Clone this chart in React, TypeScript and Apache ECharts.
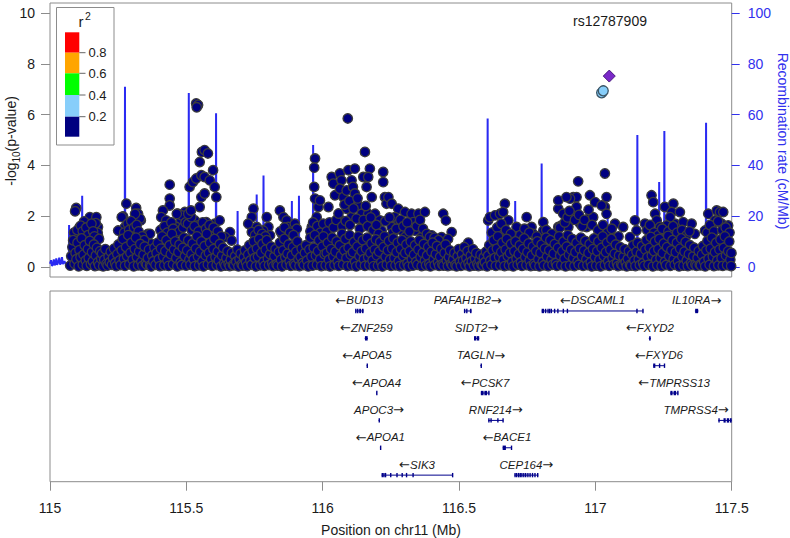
import React, { useEffect, useRef } from "react";
import * as echarts from "echarts";

// ---------------- data ----------------
const X_MIN = 115;
const X_MAX = 117.5;
const X_INTERVAL = 0.5;
const P_TICKS = [0, 2, 4, 6, 8, 10];
const RECOMB_TICKS = [0, 20, 40, 60, 80, 100];
const LEAD_SNP_NAME = "rs12787909";
const Y_TITLE_MAIN = "-log";
const Y_TITLE_SUB = "10";
const Y_TITLE_END = "(p-value)";
const Y2_TITLE = "Recombination rate (cM/Mb)";
const X_TITLE = "Position on chr11 (Mb)";

const LD_LABELS = ["0.8", "0.6", "0.4", "0.2"];
const LD_COLORS = ["#FF0000", "#FFA500", "#00FF00", "#87CEFA", "#000080"];

const leadSnp = [[117.051, 7.52]];
const ldSnps = [[117.023, 6.86], [117.029, 6.94]];

// recombination rate (cM/Mb)
const recombRate = [
  [115.000, 1.2], [115.004, 2.6], [115.007, 0.4], [115.011, 1.0], [115.014, 2.9], [115.017, 0.6],
  [115.021, 1.4], [115.023, 3.3], [115.026, 0.8], [115.031, 2.1], [115.034, 3.6], [115.037, 0.9],
  [115.041, 1.6], [115.044, 3.8], [115.047, 1.1], [115.053, 2.2], [115.058, 1.0], [115.065, 1.5],
  [115.069, 0.8], [115.070, 16.5], [115.071, 0.8], [115.100, 0.6], [115.117, 0.5], [115.118, 28],
  [115.119, 0.5], [115.200, 0.4], [115.274, 0.5], [115.275, 71], [115.276, 0.5], [115.400, 0.3],
  [115.508, 0.5], [115.509, 68.5], [115.510, 0.5], [115.608, 0.5], [115.609, 60.5], [115.610, 0.5],
  [115.687, 0.4], [115.688, 22], [115.689, 0.4], [115.757, 0.4], [115.758, 28.5], [115.759, 0.4],
  [115.782, 0.4], [115.783, 36], [115.784, 0.4], [115.886, 0.4], [115.887, 26], [115.888, 0.4],
  [115.912, 0.4], [115.913, 28], [115.914, 0.4], [115.964, 0.5], [115.965, 48], [115.966, 0.5],
  [116.200, 0.3], [116.361, 0.4], [116.362, 15.6], [116.363, 0.4], [116.500, 0.3], [116.604, 0.4],
  [116.605, 58.5], [116.606, 0.4], [116.705, 0.4], [116.706, 26], [116.707, 0.4], [116.802, 0.4],
  [116.803, 40.7], [116.804, 0.4], [116.950, 0.3], [117.044, 0.4], [117.045, 20], [117.046, 0.4],
  [117.153, 0.4], [117.154, 52], [117.155, 0.4], [117.233, 0.4], [117.234, 33.4], [117.235, 0.4],
  [117.252, 0.4], [117.253, 53.5], [117.254, 0.4], [117.405, 0.4], [117.406, 56.8], [117.407, 0.4],
  [117.500, 0.5],
];

// SNPs, -log10(p), r2 < 0.2
const snpsLowA = [
  [115.074, 0.05], [115.078, 0.42], [115.082, 0.78], [115.085, 1.05], [115.090, 0.12], [115.094, 0.55], [115.097, 0.30], [115.101, 0.95],
  [115.105, 0.02], [115.108, 0.66], [115.112, 0.38], [115.116, 1.12], [115.120, 0.08], [115.123, 0.48], [115.127, 0.85], [115.131, 0.25],
  [115.135, 0.04], [115.139, 0.70], [115.142, 0.35], [115.146, 1.02], [115.150, 0.10], [115.154, 0.58], [115.157, 0.22], [115.161, 0.88],
  [115.165, 0.03], [115.168, 0.45], [115.172, 0.75], [115.176, 0.18], [115.180, 0.06], [115.184, 0.62], [115.188, 0.32], [115.191, 0.52],
  [115.195, 0.02], [115.199, 0.28], [115.203, 0.70], [115.207, 0.12], [115.211, 0.05], [115.215, 0.40], [115.219, 0.18], [115.223, 0.60],
  [115.227, 0.08], [115.231, 0.35], [115.235, 0.72], [115.239, 0.15], [115.243, 0.03], [115.247, 0.50], [115.251, 0.88], [115.255, 0.25],
  [115.259, 0.07], [115.263, 0.65], [115.267, 1.10], [115.271, 0.32], [115.275, 0.04], [115.279, 0.78], [115.283, 0.42], [115.287, 1.25],
  [115.291, 0.10], [115.295, 0.55], [115.299, 0.95], [115.303, 0.28], [115.307, 0.02], [115.311, 0.70], [115.315, 1.15], [115.319, 0.38],
  [115.323, 0.06], [115.327, 0.60], [115.331, 0.90], [115.335, 0.20], [115.339, 0.04], [115.343, 0.48], [115.347, 0.80], [115.351, 0.15],
  [115.355, 0.09], [115.359, 0.35], [115.363, 0.68], [115.367, 0.05], [115.371, 0.02], [115.375, 0.45], [115.379, 0.22], [115.383, 0.75],
  [115.387, 0.08], [115.391, 0.55], [115.395, 0.95], [115.399, 0.30], [115.403, 0.03], [115.407, 0.72], [115.411, 1.20], [115.415, 0.40],
  [115.419, 0.06], [115.423, 0.62], [115.427, 1.05], [115.431, 0.25], [115.435, 0.04], [115.439, 0.85], [115.443, 0.50], [115.447, 1.30],
  [115.451, 0.10], [115.455, 0.68], [115.459, 1.00], [115.463, 0.35], [115.467, 0.02], [115.471, 0.58], [115.475, 0.88], [115.479, 0.18],
  [115.483, 0.07], [115.487, 0.75], [115.491, 1.15], [115.495, 0.42], [115.499, 0.05], [115.503, 0.65], [115.507, 1.05], [115.511, 0.28],
];
const snpsLowB = [
  [115.515, 0.08], [115.519, 0.50], [115.523, 0.92], [115.527, 0.30], [115.531, 0.03], [115.535, 0.72], [115.539, 1.20], [115.543, 0.40],
  [115.547, 0.06], [115.551, 0.60], [115.555, 1.00], [115.559, 0.22], [115.563, 0.02], [115.567, 0.82], [115.571, 0.45], [115.575, 1.30],
  [115.579, 0.09], [115.583, 0.55], [115.587, 0.95], [115.591, 0.30], [115.595, 0.04], [115.599, 0.70], [115.603, 1.10], [115.607, 0.38],
  [115.611, 0.07], [115.615, 0.60], [115.619, 0.25], [115.623, 0.90], [115.627, 0.02], [115.631, 0.45], [115.635, 0.75], [115.639, 0.15],
  [115.643, 0.05], [115.647, 0.35], [115.651, 0.62], [115.655, 0.12], [115.659, 0.03], [115.663, 0.28], [115.667, 0.55], [115.671, 0.08],
  [115.675, 0.06], [115.679, 0.42], [115.683, 0.20], [115.687, 0.68], [115.691, 0.02], [115.695, 0.30], [115.699, 0.52], [115.703, 0.10],
  [115.707, 0.05], [115.711, 0.38], [115.715, 0.65], [115.719, 0.18], [115.723, 0.03], [115.727, 0.48], [115.731, 0.85], [115.735, 0.25],
  [115.739, 0.08], [115.743, 0.62], [115.747, 1.00], [115.751, 0.35], [115.755, 0.02], [115.759, 0.72], [115.763, 0.40], [115.767, 1.10],
  [115.771, 0.06], [115.775, 0.55], [115.779, 0.90], [115.783, 0.20], [115.787, 0.04], [115.791, 0.68], [115.795, 1.05], [115.799, 0.32],
  [115.803, 0.07], [115.807, 0.50], [115.811, 0.80], [115.815, 0.15], [115.819, 0.03], [115.823, 0.42], [115.827, 0.70], [115.831, 0.10],
  [115.835, 0.05], [115.839, 0.58], [115.843, 0.95], [115.847, 0.28], [115.851, 0.02], [115.855, 0.65], [115.859, 1.10], [115.863, 0.38],
  [115.867, 0.08], [115.871, 0.52], [115.875, 0.88], [115.879, 0.22], [115.883, 0.04], [115.887, 0.45], [115.891, 0.78], [115.895, 0.12],
  [115.899, 0.06], [115.903, 0.60], [115.907, 1.00], [115.911, 0.30], [115.915, 0.03], [115.919, 0.40], [115.923, 0.72], [115.927, 0.15],
  [115.931, 0.07], [115.935, 0.55], [115.939, 0.85], [115.943, 0.25], [115.947, 0.02], [115.951, 0.68], [115.955, 1.15], [115.959, 0.40],
  [115.963, 0.05], [115.967, 0.75], [115.971, 1.25], [115.975, 0.45], [115.979, 0.08], [115.983, 0.62], [115.987, 1.05], [115.991, 0.30],
  [115.995, 0.03], [115.999, 0.80], [116.003, 1.20], [116.007, 0.50],
];
const snpsLowC = [
  [116.011, 0.06], [116.015, 0.55], [116.019, 0.95], [116.023, 0.28], [116.027, 0.02], [116.031, 0.70], [116.035, 1.15], [116.039, 0.40],
  [116.043, 0.07], [116.047, 0.60], [116.051, 1.00], [116.055, 0.22], [116.059, 0.04], [116.063, 0.85], [116.067, 0.45], [116.071, 1.30],
  [116.075, 0.09], [116.079, 0.65], [116.083, 1.10], [116.087, 0.35], [116.091, 0.03], [116.095, 0.75], [116.099, 1.25], [116.103, 0.48],
  [116.107, 0.06], [116.111, 0.58], [116.115, 0.98], [116.119, 0.20], [116.123, 0.02], [116.127, 0.80], [116.131, 1.20], [116.135, 0.42],
  [116.139, 0.08], [116.143, 0.62], [116.147, 1.05], [116.151, 0.30], [116.155, 0.04], [116.159, 0.72], [116.163, 1.15], [116.167, 0.38],
  [116.171, 0.07], [116.175, 0.55], [116.179, 0.92], [116.183, 0.25], [116.187, 0.03], [116.191, 0.68], [116.195, 1.08], [116.199, 0.45],
  [116.203, 0.05], [116.207, 0.60], [116.211, 0.98], [116.215, 0.18], [116.219, 0.02], [116.223, 0.78], [116.227, 1.20], [116.231, 0.40],
  [116.235, 0.08], [116.239, 0.65], [116.243, 1.02], [116.247, 0.28], [116.251, 0.04], [116.255, 0.72], [116.259, 1.12], [116.263, 0.35],
  [116.267, 0.06], [116.271, 0.58], [116.275, 0.95], [116.279, 0.22], [116.283, 0.03], [116.287, 0.70], [116.291, 1.05], [116.295, 0.42],
  [116.299, 0.07], [116.303, 0.55], [116.307, 0.88], [116.311, 0.15], [116.315, 0.02], [116.319, 0.62], [116.323, 1.00], [116.327, 0.30],
  [116.331, 0.05], [116.335, 0.48], [116.339, 0.85], [116.343, 0.20], [116.347, 0.08], [116.351, 0.68], [116.355, 1.05], [116.359, 0.38],
  [116.363, 0.03], [116.367, 0.55], [116.371, 0.90], [116.375, 0.25], [116.379, 0.06], [116.383, 0.45], [116.387, 0.78], [116.391, 0.12],
  [116.395, 0.02], [116.399, 0.60], [116.403, 0.95], [116.407, 0.30], [116.411, 0.07], [116.415, 0.50], [116.419, 0.82], [116.423, 0.18],
  [116.427, 0.04], [116.431, 0.40], [116.435, 0.72], [116.439, 0.10], [116.443, 0.05], [116.447, 0.55], [116.451, 0.88], [116.455, 0.25],
  [116.459, 0.03], [116.463, 0.38], [116.467, 0.65], [116.471, 0.12], [116.475, 0.06], [116.479, 0.30], [116.483, 0.55], [116.487, 0.08],
  [116.491, 0.02], [116.495, 0.42], [116.499, 0.70], [116.503, 0.20],
];
const snpsLowD = [
  [116.507, 0.04], [116.511, 0.50], [116.515, 0.25], [116.519, 0.78], [116.523, 0.07], [116.527, 0.35], [116.531, 0.62], [116.535, 0.15],
  [116.539, 0.02], [116.543, 0.45], [116.547, 0.22], [116.551, 0.70], [116.555, 0.05], [116.559, 0.32], [116.563, 0.55], [116.567, 0.12],
  [116.571, 0.03], [116.575, 0.28], [116.579, 0.48], [116.583, 0.08], [116.587, 0.06], [116.591, 0.38], [116.595, 0.18], [116.599, 0.60],
  [116.603, 0.02], [116.607, 0.45], [116.611, 0.85], [116.615, 0.25], [116.619, 0.08], [116.623, 0.65], [116.627, 1.05], [116.631, 0.35],
  [116.635, 0.04], [116.639, 0.72], [116.643, 1.20], [116.647, 0.40], [116.651, 0.07], [116.655, 0.58], [116.659, 0.95], [116.663, 0.28],
  [116.667, 0.03], [116.671, 0.68], [116.675, 1.10], [116.679, 0.42], [116.683, 0.06], [116.687, 0.55], [116.691, 0.90], [116.695, 0.20],
  [116.699, 0.02], [116.703, 0.62], [116.707, 1.00], [116.711, 0.32], [116.715, 0.08], [116.719, 0.50], [116.723, 0.85], [116.727, 0.18],
  [116.731, 0.04], [116.735, 0.70], [116.739, 1.12], [116.743, 0.38], [116.747, 0.07], [116.751, 0.58], [116.755, 0.92], [116.759, 0.25],
  [116.763, 0.03], [116.767, 0.45], [116.771, 0.80], [116.775, 0.12], [116.779, 0.05], [116.783, 0.62], [116.787, 1.00], [116.791, 0.30],
  [116.795, 0.02], [116.799, 0.55], [116.803, 0.88], [116.807, 0.20], [116.811, 0.06], [116.815, 0.72], [116.819, 1.15], [116.823, 0.40],
  [116.827, 0.03], [116.831, 0.65], [116.835, 1.05], [116.839, 0.28], [116.843, 0.08], [116.847, 0.52], [116.851, 0.90], [116.855, 0.15],
  [116.859, 0.04], [116.863, 0.75], [116.867, 1.20], [116.871, 0.45], [116.875, 0.07], [116.879, 0.62], [116.883, 1.00], [116.887, 0.32],
  [116.891, 0.02], [116.895, 0.80], [116.899, 1.25], [116.903, 0.48], [116.907, 0.06], [116.911, 0.68], [116.915, 1.10], [116.919, 0.35],
  [116.923, 0.03], [116.927, 0.58], [116.931, 0.95], [116.935, 0.22], [116.939, 0.08], [116.943, 0.72], [116.947, 1.15], [116.951, 0.42],
  [116.955, 0.04], [116.959, 0.65], [116.963, 1.02], [116.967, 0.30], [116.971, 0.07], [116.975, 0.55], [116.979, 0.90], [116.983, 0.18],
  [116.987, 0.02], [116.991, 0.70], [116.995, 1.12], [116.999, 0.38],
];
const snpsLowE = [
  [117.003, 0.05], [117.007, 0.62], [117.011, 1.00], [117.015, 0.28], [117.019, 0.02], [117.023, 0.75], [117.027, 1.20], [117.031, 0.42],
  [117.035, 0.07], [117.039, 0.58], [117.043, 0.95], [117.047, 0.22], [117.051, 0.04], [117.055, 0.68], [117.059, 1.10], [117.063, 0.35],
  [117.067, 0.08], [117.071, 0.52], [117.075, 0.88], [117.079, 0.15], [117.083, 0.03], [117.087, 0.45], [117.091, 0.78], [117.095, 0.10],
  [117.099, 0.06], [117.103, 0.40], [117.107, 0.70], [117.111, 0.18], [117.115, 0.02], [117.119, 0.32], [117.123, 0.62], [117.127, 0.08],
  [117.131, 0.05], [117.135, 0.48], [117.139, 0.85], [117.143, 0.25], [117.147, 0.03], [117.151, 0.60], [117.155, 0.95], [117.159, 0.30],
  [117.163, 0.07], [117.167, 0.52], [117.171, 0.82], [117.175, 0.15], [117.179, 0.04], [117.183, 0.68], [117.187, 1.05], [117.191, 0.38],
  [117.195, 0.08], [117.199, 0.75], [117.203, 1.18], [117.207, 0.45], [117.211, 0.02], [117.215, 0.62], [117.219, 1.00], [117.223, 0.28],
  [117.227, 0.06], [117.231, 0.70], [117.235, 1.10], [117.239, 0.35], [117.243, 0.03], [117.247, 0.55], [117.251, 0.92], [117.255, 0.20],
  [117.259, 0.07], [117.263, 0.78], [117.267, 1.22], [117.271, 0.42], [117.275, 0.04], [117.279, 0.65], [117.283, 1.05], [117.287, 0.30],
  [117.291, 0.08], [117.295, 0.58], [117.299, 0.95], [117.303, 0.22], [117.307, 0.02], [117.311, 0.72], [117.315, 1.12], [117.319, 0.40],
  [117.323, 0.05], [117.327, 0.60], [117.331, 0.98], [117.335, 0.25], [117.339, 0.03], [117.343, 0.50], [117.347, 0.85], [117.351, 0.15],
  [117.355, 0.07], [117.359, 0.42], [117.363, 0.75], [117.367, 0.10], [117.371, 0.04], [117.375, 0.35], [117.379, 0.62], [117.383, 0.08],
  [117.387, 0.06], [117.391, 0.48], [117.395, 0.82], [117.399, 0.20], [117.403, 0.02], [117.407, 0.65], [117.411, 1.02], [117.415, 0.32],
  [117.419, 0.08], [117.423, 0.72], [117.427, 1.15], [117.431, 0.40], [117.435, 0.03], [117.439, 0.58], [117.443, 0.95], [117.447, 0.25],
  [117.451, 0.06], [117.455, 0.68], [117.459, 1.08], [117.463, 0.35], [117.467, 0.04], [117.471, 0.75], [117.475, 1.20], [117.479, 0.45],
  [117.483, 0.07], [117.487, 0.62], [117.491, 1.00], [117.495, 0.28], [117.498, 0.03], [117.499, 0.55],
];
const snpsHighA = [
  [115.096, 2.32], [115.092, 2.19], [115.146, 1.96], [115.170, 1.96], [115.176, 1.57], [115.109, 1.57], [115.127, 1.30], [115.176, 1.24],
  [115.125, 1.79], [115.168, 1.72], [115.175, 1.34], [115.103, 0.77], [115.088, 1.35], [115.100, 1.45], [115.113, 1.62], [115.120, 1.40],
  [115.133, 1.55], [115.140, 1.25], [115.152, 1.70], [115.158, 1.40], [115.163, 1.20], [115.180, 1.10],
  [115.280, 2.49], [115.268, 1.99], [115.316, 2.32], [115.323, 2.09], [115.333, 1.83], [115.304, 1.50], [115.359, 1.30], [115.371, 0.91],
  [115.275, 1.57], [115.263, 1.96], [115.250, 1.43], [115.367, 1.30], [115.330, 1.90], [115.312, 2.09], [115.272, 1.35], [115.285, 1.70],
  [115.290, 1.45], [115.298, 1.80], [115.308, 1.55], [115.318, 1.65], [115.325, 1.40], [115.338, 1.20], [115.345, 1.05],
  [115.439, 3.24], [115.439, 2.69], [115.439, 2.42], [115.414, 2.22], [115.408, 1.96], [115.426, 1.83], [115.414, 1.50], [115.469, 2.09],
  [115.494, 2.16], [115.481, 1.83], [115.463, 1.57], [115.483, 2.03], [115.465, 2.09], [115.405, 1.45], [115.420, 1.60], [115.430, 1.35],
  [115.445, 1.75], [115.452, 1.50], [115.458, 1.30], [115.475, 1.40], [115.488, 1.55], [115.497, 1.75],
];
const snpsHighB = [
  [115.512, 3.15], [115.524, 3.34], [115.536, 3.48], [115.555, 3.61], [115.567, 3.54], [115.586, 3.41], [115.549, 4.13], [115.557, 4.53],
  [115.567, 4.60], [115.579, 4.47], [115.555, 2.75], [115.549, 2.36], [115.567, 2.89], [115.598, 3.81], [115.604, 3.15], [115.610, 2.75],
  [115.531, 1.83], [115.543, 1.63], [115.573, 1.76], [115.604, 1.70], [115.622, 1.83], [115.506, 1.70], [115.518, 1.96], [115.507, 2.09],
  [115.517, 2.22], [115.536, 6.44], [115.543, 6.38], [115.538, 6.29], [115.660, 1.37], [115.642, 1.17], [115.666, 1.04],
  [115.520, 1.45], [115.530, 1.60], [115.545, 1.40], [115.560, 1.75], [115.572, 1.50], [115.585, 1.65], [115.592, 1.35], [115.600, 1.55],
  [115.615, 1.40], [115.628, 1.20],
  [115.746, 2.29], [115.740, 1.96], [115.727, 1.70], [115.758, 1.57], [115.795, 1.96], [115.801, 1.57], [115.782, 1.43], [115.740, 1.37],
  [115.807, 1.24], [115.752, 1.25], [115.765, 1.45], [115.778, 1.30], [115.790, 1.20],
  [115.843, 2.22], [115.856, 1.96], [115.868, 1.83], [115.874, 1.57], [115.898, 1.70], [115.905, 1.50], [115.850, 1.30], [115.845, 1.40],
  [115.860, 1.55], [115.880, 1.35], [115.893, 1.25],
  [115.972, 4.27], [115.969, 3.91], [115.969, 3.15], [115.972, 2.69], [115.984, 2.36], [115.978, 1.96], [115.960, 1.57], [115.990, 2.62],
  [115.955, 1.40], [115.965, 1.75], [115.980, 1.60], [115.992, 1.35],
];
const snpsHighC = [
  [116.021, 2.36], [116.002, 1.70], [116.033, 3.54], [116.039, 3.28], [116.063, 3.68], [116.069, 3.41], [116.045, 2.82], [116.063, 3.08],
  [116.076, 2.75], [116.088, 3.01], [116.094, 3.81], [116.106, 3.41], [116.118, 3.87], [116.111, 3.15], [116.118, 2.89], [116.092, 5.85],
  [116.155, 4.53], [116.149, 3.54], [116.173, 3.87], [116.167, 3.54], [116.180, 2.75], [116.161, 3.15], [116.131, 2.42], [116.088, 2.29],
  [116.106, 1.96], [116.069, 1.83], [116.143, 2.09], [116.167, 2.09], [116.192, 2.09], [116.210, 1.83], [116.180, 1.70], [116.143, 1.57],
  [116.222, 3.74], [116.222, 3.34], [116.228, 2.75], [116.234, 2.49], [116.216, 1.43],
  [116.015, 1.40], [116.025, 1.75], [116.040, 1.55], [116.050, 1.85], [116.058, 2.10], [116.072, 1.60], [116.080, 2.45], [116.085, 1.80],
  [116.098, 2.60], [116.100, 1.65], [116.113, 2.30], [116.124, 1.90], [116.128, 2.70], [116.136, 1.50], [116.150, 1.85], [116.158, 2.40],
  [116.165, 1.60], [116.176, 1.95], [116.185, 1.45], [116.197, 1.65], [116.205, 1.30],
  [116.241, 2.75], [116.253, 2.49], [116.277, 2.29], [116.302, 2.16], [116.326, 2.09], [116.351, 2.09], [116.375, 2.16], [116.332, 1.76],
  [116.265, 1.96], [116.277, 1.70], [116.290, 1.43], [116.253, 1.57], [116.302, 1.17], [116.338, 1.43], [116.363, 1.17],
  [116.230, 1.80], [116.245, 1.95], [116.258, 1.35], [116.270, 1.50], [116.285, 1.85], [116.296, 1.60], [116.310, 1.75], [116.318, 1.40],
  [116.345, 1.60], [116.357, 1.85], [116.368, 1.50], [116.382, 1.30],
  [116.442, 2.09], [116.452, 1.83], [116.473, 1.37], [116.436, 1.17], [116.400, 1.24], [116.393, 1.17], [116.410, 1.15], [116.425, 1.05],
  [116.460, 1.10],
];
const snpsHighD = [
  [116.534, 0.95], [116.607, 1.83], [116.613, 1.96], [116.632, 2.03], [116.650, 2.09], [116.668, 2.49], [116.662, 2.16], [116.681, 1.83],
  [116.711, 1.57], [116.748, 1.96], [116.766, 1.57], [116.772, 1.30], [116.809, 1.43], [116.864, 2.29], [116.864, 1.57], [116.656, 1.24],
  [116.632, 0.91], [116.809, 1.76], [116.620, 1.35], [116.640, 1.55], [116.655, 1.70], [116.672, 1.45], [116.690, 1.30], [116.725, 1.25],
  [116.740, 1.50], [116.758, 1.35], [116.785, 1.20], [116.820, 1.45], [116.840, 1.30],
  [116.876, 1.63], [116.937, 3.37], [116.919, 2.75], [116.931, 2.75], [116.907, 2.69], [116.913, 2.16], [116.931, 2.36], [116.980, 2.82],
  [116.999, 2.55], [116.980, 1.96], [116.992, 1.96], [116.944, 1.70], [116.901, 1.57], [116.968, 1.57], [116.882, 2.09], [116.864, 2.62],
  [116.894, 2.75], [116.870, 1.55], [116.888, 1.75], [116.898, 1.95], [116.905, 2.20], [116.925, 1.85], [116.940, 2.05], [116.952, 1.60],
  [116.960, 1.85], [116.975, 2.25], [116.988, 1.65],
];
const snpsHighE = [
  [117.035, 3.68], [117.041, 2.75], [117.035, 2.36], [117.041, 2.09], [117.023, 2.42], [117.072, 1.70], [117.102, 1.57], [117.053, 1.30],
  [117.010, 1.45], [117.028, 1.65], [117.045, 1.35], [117.060, 1.50], [117.085, 1.20],
  [117.206, 2.82], [117.212, 2.55], [117.219, 2.09], [117.225, 1.83], [117.182, 1.70], [117.255, 2.36], [117.286, 2.49], [117.280, 2.16],
  [117.310, 2.16], [117.292, 1.70], [117.322, 1.76], [117.353, 1.70], [117.365, 1.30], [117.274, 1.96], [117.261, 1.63], [117.237, 1.57],
  [117.151, 1.43], [117.127, 1.17], [117.145, 1.83], [117.190, 1.45], [117.200, 1.65], [117.215, 1.35], [117.230, 1.25], [117.245, 1.50],
  [117.268, 1.40], [117.285, 1.60], [117.300, 1.35], [117.318, 1.45], [117.335, 1.25], [117.345, 1.40],
  [117.414, 2.09], [117.445, 2.22], [117.457, 2.16], [117.439, 1.83], [117.463, 1.70], [117.487, 1.63], [117.427, 1.57], [117.481, 1.17],
  [117.402, 1.43], [117.469, 2.16], [117.410, 1.35], [117.420, 1.65], [117.435, 1.40], [117.450, 1.80], [117.465, 1.45], [117.478, 1.55],
  [117.492, 1.35],
];

// genes: name, start, end (Mb), strand, track row, exon blocks
const GENES = [
  { name: "BUD13", start: 116.119, end: 116.150, strand: "-", row: 0, exons: [[116.119, 116.123], [116.126, 116.131], [116.134, 116.141], [116.144, 116.150]] },
  { name: "ZNF259", start: 116.154, end: 116.166, strand: "-", row: 1, exons: [[116.155, 116.165]] },
  { name: "APOA5", start: 116.161, end: 116.164, strand: "-", row: 2, exons: [[116.161, 116.164]] },
  { name: "APOA4", start: 116.196, end: 116.199, strand: "-", row: 3, exons: [[116.196, 116.199]] },
  { name: "APOC3", start: 116.205, end: 116.208, strand: "+", row: 4, exons: [[116.205, 116.208]] },
  { name: "APOA1", start: 116.210, end: 116.213, strand: "-", row: 5, exons: [[116.210, 116.213]] },
  { name: "SIK3", start: 116.216, end: 116.476, strand: "-", row: 6, exons: [[116.216, 116.220], [116.222, 116.226], [116.228, 116.233], [116.247, 116.249], [116.270, 116.272], [116.289, 116.291], [116.305, 116.307], [116.329, 116.331], [116.474, 116.476]] },
  { name: "PAFAH1B2", start: 116.518, end: 116.546, strand: "+", row: 0, exons: [[116.518, 116.523], [116.526, 116.530], [116.540, 116.546]] },
  { name: "SIDT2", start: 116.555, end: 116.574, strand: "+", row: 1, exons: [[116.555, 116.563], [116.565, 116.574]] },
  { name: "TAGLN", start: 116.578, end: 116.583, strand: "+", row: 2, exons: [[116.579, 116.582]] },
  { name: "PCSK7", start: 116.580, end: 116.611, strand: "-", row: 3, exons: [[116.580, 116.590], [116.593, 116.603], [116.607, 116.611]] },
  { name: "RNF214", start: 116.607, end: 116.662, strand: "+", row: 4, exons: [[116.607, 116.612], [116.615, 116.620], [116.640, 116.642], [116.659, 116.662]] },
  { name: "BACE1", start: 116.660, end: 116.692, strand: "-", row: 5, exons: [[116.660, 116.672], [116.690, 116.692]] },
  { name: "CEP164", start: 116.703, end: 116.791, strand: "+", row: 6, exons: [[116.703, 116.705], [116.709, 116.711], [116.716, 116.718], [116.722, 116.724], [116.728, 116.731], [116.735, 116.738], [116.742, 116.746], [116.750, 116.754], [116.758, 116.762], [116.767, 116.771], [116.776, 116.780], [116.786, 116.791]] },
  { name: "DSCAML1", start: 116.803, end: 117.176, strand: "-", row: 0, exons: [[116.803, 116.812], [116.815, 116.818], [116.824, 116.827], [116.830, 116.833], [116.836, 116.840], [116.848, 116.852], [116.860, 116.862], [116.880, 116.883], [116.895, 116.899], [117.150, 117.153], [117.172, 117.176]] },
  { name: "IL10RA", start: 117.365, end: 117.378, strand: "+", row: 0, exons: [[117.366, 117.377]] },
  { name: "FXYD2", start: 117.196, end: 117.204, strand: "-", row: 1, exons: [[117.197, 117.203]] },
  { name: "FXYD6", start: 117.212, end: 117.254, strand: "-", row: 2, exons: [[117.212, 117.220], [117.233, 117.235], [117.251, 117.254]] },
  { name: "TMPRSS13", start: 117.274, end: 117.304, strand: "-", row: 3, exons: [[117.275, 117.283], [117.287, 117.296], [117.300, 117.304]] },
  { name: "TMPRSS4", start: 117.451, end: 117.500, strand: "+", row: 4, exons: [[117.451, 117.453], [117.470, 117.478], [117.482, 117.490], [117.493, 117.500]] },
];

// ---------------- chart ----------------
const FONT = '"Liberation Sans", Arial, Helvetica, sans-serif';
const ARROW_FONT = '"DejaVu Sans", sans-serif';
const GENE_FONT_SIZE = 11.5;
const ARROW_FONT_SIZE = 13;
const BLUE = "#3131ee";
const NAVY = "#000080";
const GENE_COLOR = "#00008B";
const BOX = "#8c8c8c";

let measureCtx: CanvasRenderingContext2D | null = null;
function textWidth(t: string, font: string): number {
  if (!measureCtx) {
    const c = document.createElement("canvas");
    measureCtx = c.getContext("2d");
  }
  if (!measureCtx) return t.length * 7;
  measureCtx.font = font;
  return measureCtx.measureText(t).width;
}

function buildOption() {
  const allSnps = [
    ...snpsHighA, ...snpsHighB, ...snpsHighC, ...snpsHighD, ...snpsHighE,
    ...snpsLowA, ...snpsLowB, ...snpsLowC, ...snpsLowD, ...snpsLowE,
  ];

  const legendGraphics: any[] = [
    { type: "rect", shape: { x: 56.5, y: 7.5, width: 57.5, height: 137.5 }, style: { fill: "#fff", stroke: BOX, lineWidth: 1 }, z: 100 },
    { type: "text", x: 81, y: 21, style: { text: "r", font: `15px ${FONT}`, fill: "#1a1a1a", align: "center", verticalAlign: "middle" }, z: 101 },
    { type: "text", x: 88, y: 15.5, style: { text: "2", font: `10.5px ${FONT}`, fill: "#1a1a1a", align: "center", verticalAlign: "middle" }, z: 101 },
  ];
  const bandTops = [32.3, 52.7, 73.3, 95, 116.7, 136.7];
  LD_COLORS.forEach((c, i) => {
    legendGraphics.push({
      type: "rect",
      shape: { x: 65, y: bandTops[i], width: 14.3, height: bandTops[i + 1] - bandTops[i] },
      style: { fill: c, stroke: "none" },
      z: 101,
    });
  });
  LD_LABELS.forEach((l, i) => {
    const y = bandTops[i + 1];
    legendGraphics.push({ type: "line", shape: { x1: 79.3, y1: y, x2: 85.5, y2: y }, style: { stroke: "#666", lineWidth: 1 }, z: 101 });
    legendGraphics.push({ type: "text", x: 88.5, y: y, style: { text: l, font: `13px ${FONT}`, fill: "#1a1a1a", align: "left", verticalAlign: "middle" }, z: 101 });
  });

  return {
    animation: false,
    textStyle: { fontFamily: FONT },
    grid: [
      { left: 50, top: 3, width: 681.7, height: 274, show: true, borderColor: BOX, borderWidth: 1, backgroundColor: "transparent" },
      { left: 50, top: 291, width: 681.7, height: 190.7, show: true, borderColor: BOX, borderWidth: 1, backgroundColor: "transparent" },
    ],
    xAxis: [
      { gridIndex: 0, type: "value", min: X_MIN, max: X_MAX, show: false },
      {
        gridIndex: 1, type: "value", min: X_MIN, max: X_MAX, interval: X_INTERVAL, position: "bottom",
        axisLine: { show: false, onZero: false },
        axisTick: { show: true, length: 9, lineStyle: { color: BOX } },
        axisLabel: { fontSize: 14, color: "#1a1a1a", margin: 19, fontFamily: FONT },
        splitLine: { show: false },
      },
    ],
    yAxis: [
      {
        gridIndex: 0, type: "value", min: -0.4, max: 10.4,
        axisLine: { show: false, onZero: false },
        axisTick: { show: true, length: 9, customValues: P_TICKS, lineStyle: { color: BOX } },
        axisLabel: { customValues: P_TICKS, fontSize: 14, color: "#1a1a1a", margin: 15, fontFamily: FONT },
        splitLine: { show: false },
      },
      {
        gridIndex: 0, type: "value", position: "right", min: -4, max: 104,
        axisLine: { show: false, onZero: false },
        axisTick: { show: true, length: 8, customValues: RECOMB_TICKS, lineStyle: { color: BLUE } },
        axisLabel: { customValues: RECOMB_TICKS, fontSize: 14, color: BLUE, margin: 16, fontFamily: FONT },
        splitLine: { show: false },
      },
      { gridIndex: 1, type: "value", min: -0.73, max: 6.24, inverse: true, show: false },
    ],
    series: [
      {
        type: "line", xAxisIndex: 0, yAxisIndex: 1, data: recombRate, showSymbol: false, silent: true, z: 1,
        lineStyle: { color: "#2a2af2", width: 2 },
      },
      {
        type: "scatter", xAxisIndex: 0, yAxisIndex: 0, data: allSnps, symbol: "circle", symbolSize: 9.5, silent: true, z: 2,
        itemStyle: { color: NAVY, borderColor: "#3c3c3c", borderWidth: 1.3, opacity: 1 },
      },
      {
        type: "scatter", xAxisIndex: 0, yAxisIndex: 0, data: ldSnps, symbol: "circle", symbolSize: 10, silent: true, z: 3,
        itemStyle: { color: "#87CEFA", borderColor: "#3b5566", borderWidth: 1.3, opacity: 1 },
      },
      {
        type: "scatter", xAxisIndex: 0, yAxisIndex: 0, data: leadSnp, symbol: "diamond", symbolSize: 12, silent: true, z: 4,
        itemStyle: { color: "#7A28C8", borderColor: "#4a1a80", borderWidth: 1, opacity: 1 },
      },
      {
        type: "custom", xAxisIndex: 1, yAxisIndex: 2, silent: true, z: 5,
        data: GENES.map((g, i) => [g.start, g.end, g.row, i]),
        renderItem: (params: any, api: any) => {
          const g = GENES[api.value(3)];
          const row = api.value(2);
          const p0 = api.coord([g.start, row]);
          const p1 = api.coord([g.end, row]);
          const children: any[] = [
            { type: "line", shape: { x1: p0[0], y1: p0[1], x2: p1[0], y2: p1[1] }, style: { stroke: GENE_COLOR, lineWidth: 1 } },
          ];
          g.exons.forEach(([a, b]) => {
            const e0 = api.coord([a, row]);
            const e1 = api.coord([b, row]);
            const w = Math.max(e1[0] - e0[0], 1.4);
            children.push({ type: "rect", shape: { x: e0[0], y: e0[1] - 2.2, width: w, height: 4.4 }, style: { fill: GENE_COLOR } });
          });
          const plus = g.strand === "+";
          const label = plus ? `${g.name}{a|\u2192}` : `{a|\u2190}${g.name}`;
          const w =
            textWidth(g.name, `italic ${GENE_FONT_SIZE}px ${FONT}`) +
            textWidth("\u2192", `${ARROW_FONT_SIZE}px ${ARROW_FONT}`);
          const mid = api.coord([(g.start + g.end) / 2, row]);
          const right = api.coord([X_MAX, row])[0] - 3;
          let cx = mid[0];
          if (cx + w / 2 > right) cx = right - w / 2;
          children.push({
            type: "text", x: cx, y: mid[1] - 10.5,
            style: {
              text: label, fontSize: GENE_FONT_SIZE, fontFamily: FONT, fontStyle: "italic", fill: "#1a1a1a",
              align: "center", verticalAlign: "middle",
              rich: { a: { fontFamily: ARROW_FONT, fontStyle: "normal", fontSize: ARROW_FONT_SIZE, fill: "#1a1a1a" } },
            },
          });
          return { type: "group", children };
        },
      },
    ],
    graphic: [
      ...legendGraphics,
      {
        type: "text", x: 610, y: 20.5,
        style: { text: LEAD_SNP_NAME, font: `14px ${FONT}`, fill: "#1a1a1a", align: "center", verticalAlign: "middle" },
      },
      {
        type: "text", x: 11, y: 141, rotation: Math.PI / 2,
        style: {
          text: `${Y_TITLE_MAIN}{s|${Y_TITLE_SUB}}${Y_TITLE_END}`,
          font: `14px ${FONT}`, fill: "#1a1a1a", align: "center", verticalAlign: "middle",
          rich: { s: { fontSize: 10, fontFamily: FONT, fill: "#1a1a1a", lineHeight: 20, verticalAlign: "bottom" } },
        },
      },
      {
        type: "text", x: 783, y: 141, rotation: -Math.PI / 2,
        style: { text: Y2_TITLE, font: `14px ${FONT}`, fill: BLUE, align: "center", verticalAlign: "middle" },
      },
      {
        type: "text", x: 391, y: 530,
        style: { text: X_TITLE, font: `14px ${FONT}`, fill: "#1a1a1a", align: "center", verticalAlign: "middle" },
      },
    ],
  };
}

export default function App() {
  const ref = useRef<HTMLDivElement>(null);
  useEffect(() => {
    if (!ref.current) return;
    const chart = echarts.init(ref.current, null, { renderer: "svg" });
    chart.setOption(buildOption() as any);
    return () => chart.dispose();
  }, []);
  return (
    <div
      ref={ref}
      style={{ width: 790, height: 538, position: "absolute", left: 0, top: 0, background: "#fff" }}
    />
  );
}
